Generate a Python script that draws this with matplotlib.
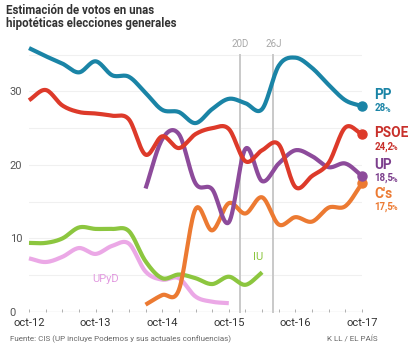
import numpy as np
import matplotlib
matplotlib.use("Agg")
import matplotlib.pyplot as plt
from matplotlib.ticker import MultipleLocator

plt.rcParams['font.family'] = ['Roboto', 'DejaVu Sans']

# ---------------- data (quarterly CIS estimates, oct-12 = 0 ... oct-17 = 20)
quarters = list(range(21))
year_labels = ['oct-12', 'oct-13', 'oct-14', 'oct-15', 'oct-16', 'oct-17']

pp = [35.9, 34.8, 33.8, 32.6, 34.1, 32.2, 32.0, 29.8, 27.5, 27.2, 25.7,
      27.6, 29.0, 28.4, 27.6, 33.5, 34.6, 33.2, 30.9, 28.8, 28.0]
psoe = [28.8, 30.2, 28.1, 27.2, 27.0, 26.7, 26.2, 21.4, 23.9, 22.3, 24.2,
        25.0, 24.9, 20.5, 22.0, 22.8, 17.0, 18.5, 20.3, 25.1, 24.2]
up_start = 7
up = [16.8, 23.5, 24.2, 17.5, 16.7, 12.2, 22.2, 17.8, 20.2, 22.0, 21.2,
      19.7, 20.2, 18.5]
cs_start = 7
cs = [1.0, 2.3, 3.0, 14.0, 11.1, 14.8, 13.4, 15.6, 11.9, 12.9, 12.3, 14.2,
      14.4, 17.5]
iu = [9.4, 9.4, 10.0, 11.5, 11.3, 11.3, 11.0, 6.9, 4.6, 5.1, 4.6, 3.8,
      4.8, 3.7, 5.4]
upyd = [7.3, 6.8, 7.5, 8.7, 7.9, 9.0, 9.3, 5.5, 4.4, 4.6, 2.1, 1.4, 1.2]

elections = {'20D': 12.67, '26J': 14.67}

c_pp, c_psoe, c_up, c_cs = '#1a84a6', '#dd3a2a', '#8d4b9b', '#ec7a32'
c_iu, c_upyd = '#8cc63f', '#eba8e6'


def smooth(x, y, n=16):
    # catmull-rom curve through the points
    x = np.asarray(x, float)
    y = np.asarray(y, float)
    px = np.concatenate([[2 * x[0] - x[1]], x, [2 * x[-1] - x[-2]]])
    py = np.concatenate([[2 * y[0] - y[1]], y, [2 * y[-1] - y[-2]]])
    t = np.linspace(0, 1, n, endpoint=False)
    xs, ys = [], []
    for i in range(1, len(px) - 2):
        for p, out in ((px, xs), (py, ys)):
            p0, p1, p2, p3 = p[i - 1], p[i], p[i + 1], p[i + 2]
            out.append(0.5 * (2 * p1 + (-p0 + p2) * t
                              + (2 * p0 - 5 * p1 + 4 * p2 - p3) * t ** 2
                              + (-p0 + 3 * p1 - 3 * p2 + p3) * t ** 3))
    return np.append(np.concatenate(xs), x[-1]), np.append(np.concatenate(ys), y[-1])


fig = plt.figure(figsize=(4.14, 3.51), dpi=100)
W, H = 414, 351
ax = fig.add_axes([29 / W, (H - 312) / H, 333 / W, 272 / H])
ax.set_xlim(0, 20)
ax.set_ylim(0, 37)

for s in ax.spines.values():
    s.set_visible(False)

# grid + baseline
for v in [5, 10, 15, 20, 25, 30, 35]:
    ax.axhline(v, color='#f0f0f0', lw=0.8, zorder=0)
ax.axhline(0, color='#a0a0a0', lw=0.8, zorder=1)

# election lines
for name, q in elections.items():
    ax.plot([q, q], [0, 35.0], color='#c9c9c9', lw=1.4, zorder=1, clip_on=False)
    ax.text(q, 35.8, name, color='#a8a8a8', fontsize=7, ha='center',
            va='bottom', clip_on=False)

series = [
    (upyd, 0, c_upyd),
    (iu, 0, c_iu),
    (cs, cs_start, c_cs),
    (up, up_start, c_up),
    (psoe, 0, c_psoe),
    (pp, 0, c_pp),
]
for vals, start, col in series:
    xs = quarters[start:start + len(vals)]
    sx, sy = smooth(xs, vals)
    ax.plot(sx, sy, color=col, lw=3.0, solid_capstyle='butt', zorder=3,
            clip_on=False)

for vals, col in [(cs, c_cs), (up, c_up), (psoe, c_psoe), (pp, c_pp)]:
    ax.plot(quarters[-1], vals[-1], 'o', color=col, ms=6.5, zorder=4,
            clip_on=False)

# end labels
end_labels = [
    ('PP', '28', 29.5, 27.7, c_pp),
    ('PSOE', '24,2', 24.3, 22.5, '#c8302b'),
    ('UP', '18,5', 20.0, 18.2, '#7c3f8d'),
    ("C's", '17,5', 16.1, 14.3, c_cs),
]
xl = 20.75
fig.canvas.draw()
for name, num, y1, y2, col in end_labels:
    ax.text(xl, y1, name, color=col, fontsize=9.8, fontweight='bold',
            va='center', ha='left', clip_on=False)
    t = ax.text(xl, y2, num, color=col, fontsize=7, fontweight='bold',
                va='center', ha='left', clip_on=False)
    bb = t.get_window_extent(renderer=fig.canvas.get_renderer())
    ypix = ax.transData.transform((0, y2 - 0.2))[1]
    fig.text((bb.x1 - 1.5) / W, ypix / H, '%', fontsize=5.4, fontweight='bold',
             color=col, va='center', ha='left')

# text labels inside chart
ax.text(4.6, 4.5, 'UPyD', color='#e29be0', fontsize=8, ha='center', va='center')
ax.text(13.75, 7.5, 'IU', color=c_iu, fontsize=8, ha='center', va='center')

# axes ticks
ax.set_xticks([0, 4, 8, 12, 16, 20])
ax.set_xticklabels(year_labels)
ax.xaxis.set_minor_locator(MultipleLocator(1))
ax.tick_params(axis='x', which='both', direction='in', length=2.2,
               width=0.7, color='#b0b0b0', labelsize=8, labelcolor='#333333',
               pad=4)
ax.set_yticks([0, 10, 20, 30])
ax.tick_params(axis='y', length=0, labelsize=8, labelcolor='#555555', pad=14)
for lab in ax.get_yticklabels():
    lab.set_horizontalalignment('left')

# title and footer
fig.text(6 / W, 1 - 4 / H,
         'Estimación de votos en unas\nhipotéticas elecciones generales',
         fontsize=8.3, fontweight='bold', color='#333333', va='top',
         ha='left', linespacing=1.05)
fig.text(10 / W, 1 - 339 / H,
         'Fuente: CIS (UP incluye Podemos y sus actuales confluencias)',
         fontsize=5.8, color='#666666', va='center', ha='left')
fig.text(378 / W, 1 - 339 / H, 'K LL / EL PAÍS', fontsize=5.8,
         color='#666666', va='center', ha='right')

fig.savefig('out.png', dpi=100)
